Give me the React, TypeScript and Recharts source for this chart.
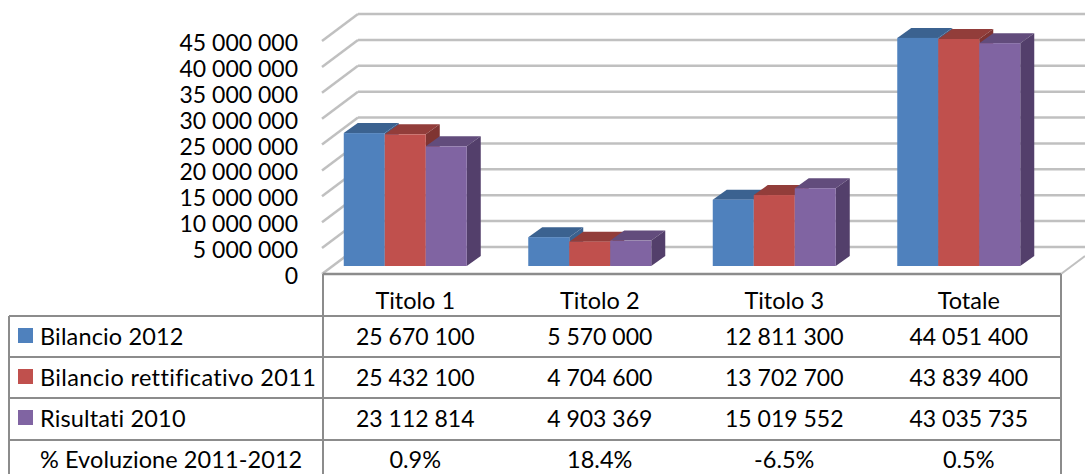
import { Bar, BarChart, CartesianGrid, XAxis, YAxis } from "recharts"

const categories = ["Titolo 1", "Titolo 2", "Titolo 3", "Totale"]
const bilancio2012 = [25670100, 5570000, 12811300, 44051400]
const rettificativo2011 = [25432100, 4704600, 13702700, 43839400]
const risultati2010 = [23112814, 4903369, 15019552, 43035735]
const evoluzione = ["0.9%", "18.4%", "-6.5%", "0.5%"]
const yTicks = [0, 5000000, 10000000, 15000000, 20000000, 25000000, 30000000, 35000000, 40000000, 45000000]

const seriesNames = ["Bilancio 2012", "Bilancio rettificativo 2011", "Risultati 2010"]
const evoluzioneLabel = "% Evoluzione 2011-2012"

const data = categories.map((name, i) => ({
  name,
  a: bilancio2012[i],
  b: rettificativo2011[i],
  c: risultati2010[i],
}))

const FONT = "Lato, Carlito, sans-serif"
const FONT_SIZE = 23.5
const NUM_SIZE = 23
const TEXT = "#000"
const GRID = "#c0c0c0"
const TABLE = "#8c8c8c"

// depth of the bars
const DX = 14
const DY = 10

// table rows
const ROW_TEXT_Y = [300, 336, 377, 418, 459]
const ROW_LINES = [316, 357, 398, 440]
const TABLE_TOP = 274
const TABLE_LEFT = 9
const COL_LEFT = 323
const TABLE_RIGHT = 1061
const LABEL_SPACING = [0.15, 0.37, 0.15, 0.08]

const textStyle = { fontVariantLigatures: "none" as const }

const fmt = (v: number) => String(v).replace(/\B(?=(\d{3})+(?!\d))/g, " ")

function bar3d(front: string, top: string, side: string) {
  return (props: any) => {
    const { x, y, width, height } = props
    return (
      <g>
        <path d={`M${x} ${y}l${DX} ${-DY}h${width}l${-DX} ${DY}z`} fill={top} />
        <path d={`M${x + width} ${y}l${DX} ${-DY}v${height}l${-DX} ${DY}z`} fill={side} />
        <rect x={x} y={y} width={width} height={height} fill={front} />
      </g>
    )
  }
}

function GridLine(props: any) {
  const { y1, y2, x2 } = props
  const y = y1 ?? y2 ?? props.y
  return (
    <g>
      <line x1={322} y1={y + 8} x2={358} y2={y - 19} stroke={GRID} strokeWidth={2.5} />
      <line x1={358} y1={y - 19} x2={x2 + 34} y2={y - 19} stroke={GRID} strokeWidth={2.5} />
    </g>
  )
}

function YTick(props: any) {
  const { y, payload } = props
  return (
    <text x={298} y={y + 9} textAnchor="end" dominantBaseline="central" fontFamily={FONT} fontSize={NUM_SIZE} fill={TEXT} style={textStyle}>
      {fmt(payload.value)}
    </text>
  )
}

function ColumnTick(props: any) {
  const { x, payload, index } = props
  const cx = x + 10
  const cells = [
    payload.value,
    fmt(bilancio2012[index]),
    fmt(rettificativo2011[index]),
    fmt(risultati2010[index]),
    evoluzione[index],
  ]
  return (
    <g>
      {cells.map((t, i) => (
        <text
          key={i}
          x={cx}
          y={ROW_TEXT_Y[i]}
          textAnchor="middle"
          dominantBaseline="central"
          fontFamily={FONT}
          fontSize={i >= 1 && i <= 3 ? NUM_SIZE : FONT_SIZE}
          fill={TEXT}
          style={textStyle}
        >
          {t}
        </text>
      ))}
    </g>
  )
}

function DataTable() {
  const labels = [...seriesNames, evoluzioneLabel]
  const keys = ["#4f81bd", "#c0504d", "#8064a2"]
  return (
    <g>
      <line x1={TABLE_RIGHT} y1={TABLE_TOP} x2={1085} y2={256} stroke={GRID} strokeWidth={2} />
      <line x1={COL_LEFT} y1={TABLE_TOP} x2={TABLE_RIGHT} y2={TABLE_TOP} stroke={TABLE} strokeWidth={2.5} />
      <line x1={COL_LEFT} y1={TABLE_TOP} x2={COL_LEFT} y2={474} stroke={TABLE} strokeWidth={2} />
      <line x1={TABLE_LEFT} y1={ROW_LINES[0]} x2={TABLE_LEFT} y2={474} stroke={TABLE} strokeWidth={2} />
      <line x1={TABLE_RIGHT} y1={TABLE_TOP} x2={TABLE_RIGHT} y2={474} stroke={TABLE} strokeWidth={2} />
      {ROW_LINES.map((y) => (
        <line key={y} x1={TABLE_LEFT} y1={y} x2={TABLE_RIGHT} y2={y} stroke={TABLE} strokeWidth={2} />
      ))}
      {labels.map((label, i) => (
        <g key={label}>
          {keys[i] && <rect x={18} y={ROW_TEXT_Y[i + 1] - 8} width={15} height={15} fill={keys[i]} />}
          <text
            x={40}
            y={ROW_TEXT_Y[i + 1]}
            dominantBaseline="central"
            fontFamily={FONT}
            fontSize={FONT_SIZE}
            fill={TEXT}
            letterSpacing={LABEL_SPACING[i]}
            style={textStyle}
          >
            {label}
          </text>
        </g>
      ))}
    </g>
  )
}

export default function App() {
  return (
    <div style={{ position: "absolute", left: 0, top: 0, width: 1085, height: 474, overflow: "hidden", background: "#fff" }}>
      <BarChart
        width={1085}
        height={474}
        data={data}
        margin={{ top: 33, right: 34, bottom: 207, left: 312 }}
        barCategoryGap="16.67%"
        barGap={0}
      >
        <CartesianGrid vertical={false} horizontal={(p: any) => <GridLine key={p.index} {...p} />} />
        <XAxis dataKey="name" height={1} axisLine={false} tickLine={false} interval={0} tick={ColumnTick} />
        <YAxis width={1} domain={[0, 45000000]} ticks={yTicks} interval={0} axisLine={false} tickLine={false} tick={YTick} />
        <Bar dataKey="a" name={seriesNames[0]} isAnimationActive={false} shape={bar3d("#4f81bd", "#3b6290", "#3b6290")} />
        <Bar dataKey="b" name={seriesNames[1]} isAnimationActive={false} shape={bar3d("#c0504d", "#923d3a", "#7f3432")} />
        <Bar dataKey="c" name={seriesNames[2]} isAnimationActive={false} shape={bar3d("#8064a2", "#624c7c", "#533f6b")} />
        <DataTable />
      </BarChart>
    </div>
  )
}
